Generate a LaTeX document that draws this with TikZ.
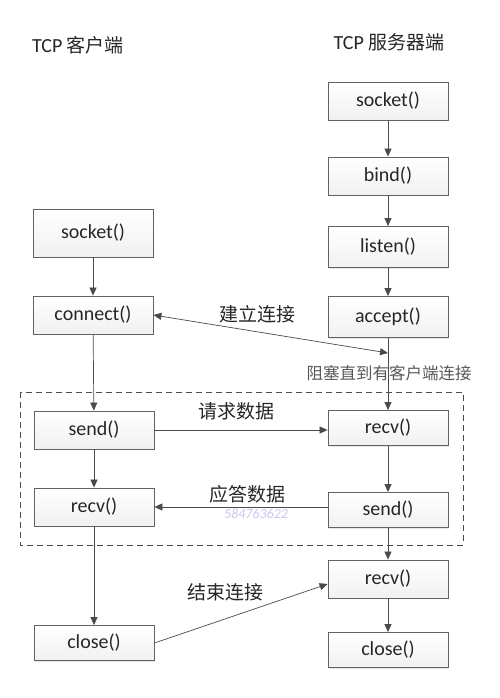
\documentclass[tikz,border=0pt]{standalone}
\usepackage{fontspec}
\setmainfont{Carlito}
\newfontfamily\cjk{Noto Sans CJK SC}
\usetikzlibrary{arrows.meta,shadows}
\definecolor{linec}{HTML}{4A4A4A}
\definecolor{boxline}{HTML}{626262}
\definecolor{txt}{HTML}{262626}
\definecolor{wm}{HTML}{C8C8F0}
\begin{document}
\begin{tikzpicture}[x=1pt,y=-1pt,
  box/.style={draw=boxline, line width=0.8pt, top color=white, bottom color=gray!11,
    minimum width=120pt, minimum height=38pt, inner sep=0pt, text=txt,
    font=\fontsize{20}{22}\selectfont,
    drop shadow={shadow xshift=1.2pt, shadow yshift=-1.2pt, opacity=0.2, fill=gray}},
  arr/.style={draw=linec, line width=0.7pt, -{Triangle[length=8pt,width=7pt]}},
  dbl/.style={draw=linec, line width=0.7pt, {Triangle[length=8pt,width=7pt]}-{Triangle[length=8pt,width=7pt]}},
  lbl/.style={text=txt, font=\cjk\fontsize{19}{21}\selectfont, inner sep=0pt},
  title/.style={text=txt, font=\fontsize{20}{22}\selectfont, inner sep=0pt}]
\useasboundingbox (0,0) rectangle (499,698);

% titles
\node[title] (tc) at (78,45) {TCP {\cjk\fontsize{19}{21}\selectfont 客户端}};
\node[title] (ts) at (389,42) {TCP {\cjk\fontsize{19}{21}\selectfont 服务器端}};

% dashed region
\draw[draw=linec, line width=0.7pt, dash pattern=on 6pt off 4pt] (20,392) rectangle (463,545);

% client column
\node[box, minimum height=48pt] (csock) at (93,233) {socket()};
\node[box] (cconn) at (93,315) {connect()};
\node[box] (csend) at (94,430) {send()};
\node[box] (crecv) at (94,507) {recv()};
\node[box, minimum height=35pt] (cclose) at (94,643) {close()};

% server column
\node[box] (ssock) at (388,101) {socket()};
\node[box] (sbind) at (388,176) {bind()};
\node[box, minimum height=41pt] (slist) at (388,247) {listen()};
\node[box, minimum height=41pt] (sacc) at (388,317) {accept()};
\node[box, minimum height=35pt] (srecv) at (388,428) {recv()};
\node[box, minimum height=35pt] (ssend) at (388,510) {send()};
\node[box] (srecv2) at (388,579) {recv()};
\node[box, minimum height=35pt] (sclose) at (388,650) {close()};

\coordinate (blk) at (388,353);

% client arrows
\draw[arr] (csock) -- (cconn);
\draw[arr] (cconn) -- (csend);
\draw[arr] (csend) -- (crecv);
\draw[arr] (crecv) -- (cclose);

% server arrows
\draw[arr] (ssock) -- (sbind);
\draw[arr] (sbind) -- (slist);
\draw[arr] (slist) -- (sacc);
\draw[arr] (sacc) -- (srecv);
\draw[arr] (srecv) -- (ssend);
\draw[arr] (ssend) -- (srecv2);
\draw[arr] (srecv2) -- (sclose);

% cross arrows
\draw[dbl] (cconn.east) -- (blk);
\draw[arr] (csend.east) -- (csend.east -| srecv.west);
\draw[arr] (ssend.west |- crecv.east) -- (crecv.east);
\draw[arr] (cclose.east) -- ([yshift=-5pt]srecv2.west);

% labels
\node[lbl] (l1) at (257,314) {建立连接};
\node[lbl, font=\cjk\fontsize{16.5}{18}\selectfont, text=gray!70!black] (l2) at (389,373) {阻塞直到有客户端连接};
\node[lbl] (l3) at (236,411) {请求数据};
\node[lbl] (l4) at (247,494) {应答数据};
\node[text=wm, font=\itshape\fontsize{14}{15}\selectfont, inner sep=0pt] (wmk) at (256,514) {584763622};
\node[lbl] (l5) at (225,592) {结束连接};
\end{tikzpicture}
\end{document}
